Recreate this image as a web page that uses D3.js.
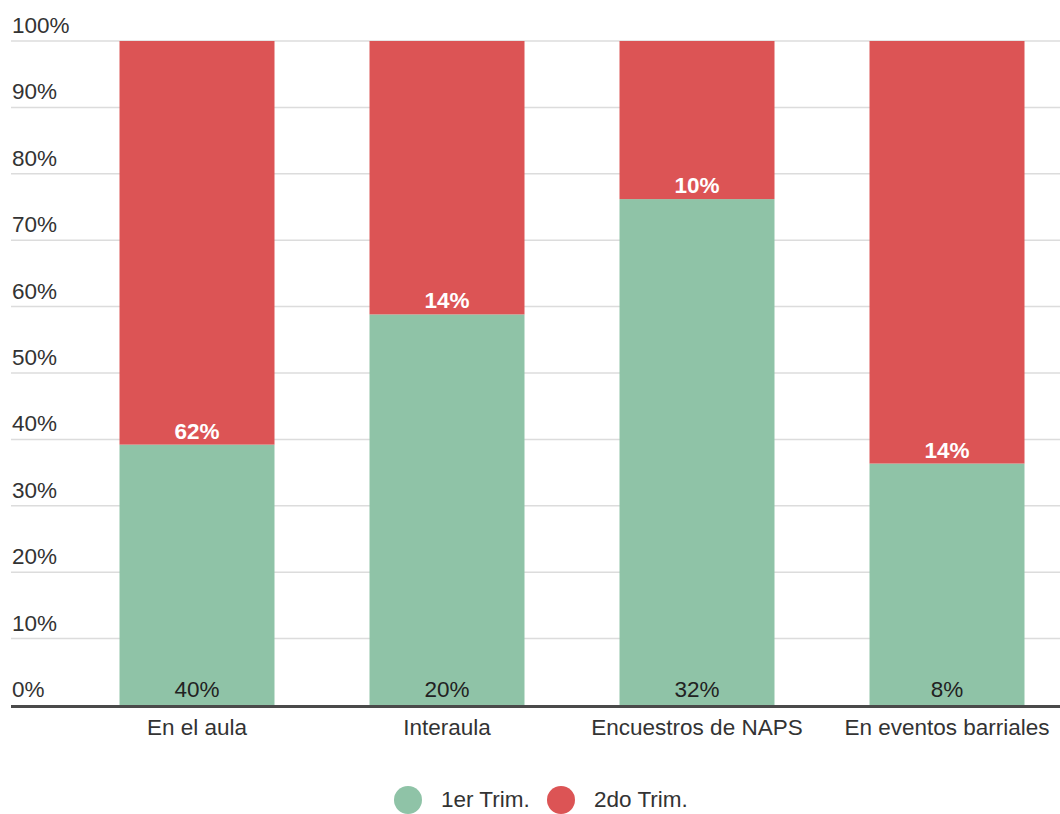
<!DOCTYPE html>
<html>
<head>
<meta charset="utf-8">
<script src="https://cdn.jsdelivr.net/npm/d3@7"></script>
<style>
  body { margin: 0; background: #fff; }
  svg { display: block; font-family: "Liberation Sans", Arial, sans-serif; }
</style>
</head>
<body>
<div id="chart"></div>
<script>
// data
const categories = ["En el aula", "Interaula", "Encuestros de NAPS", "En eventos barriales"];
const trim1 = [40, 20, 32, 8];
const trim2 = [62, 14, 10, 14];
const seriesNames = ["1er Trim.", "2do Trim."];
const yTicks = [0, 10, 20, 30, 40, 50, 60, 70, 80, 90, 100];
const colors = ["#8fc3a7", "#dc5455"];

const width = 1060, height = 814;
const fs = 22.5;

const svg = d3.select("#chart")
  .append("svg")
  .attr("width", width)
  .attr("height", height);

const x = d3.scaleBand()
  .domain(categories)
  .range([72, 1072])
  .paddingInner(0.38)
  .paddingOuter(0.19);

const y = d3.scaleLinear()
  .domain([0, 100])
  .range([705, 41]);

// gridlines + tick labels
const grid = svg.append("g");
grid.selectAll("line")
  .data(yTicks.filter(d => d > 0))
  .join("line")
  .attr("x1", 11).attr("x2", width)
  .attr("y1", d => y(d)).attr("y2", d => y(d))
  .attr("stroke", "#dcdcdc")
  .attr("stroke-width", 1.5);

grid.selectAll("text")
  .data(yTicks)
  .join("text")
  .attr("x", 12)
  .attr("y", d => y(d) - 8)
  .attr("fill", "#333")
  .attr("font-size", fs)
  .text(d => d + "%");

// stacked to 100%
const rows = categories.map((c, i) => {
  const tot = trim1[i] + trim2[i];
  return { cat: c, a: trim1[i], b: trim2[i], pa: trim1[i] / tot * 100 };
});

const bars = svg.append("g");
bars.selectAll("rect.t1")
  .data(rows)
  .join("rect")
  .attr("class", "t1")
  .attr("x", d => x(d.cat))
  .attr("width", x.bandwidth())
  .attr("y", d => y(d.pa))
  .attr("height", d => y(0) - y(d.pa))
  .attr("fill", colors[0]);

bars.selectAll("rect.t2")
  .data(rows)
  .join("rect")
  .attr("class", "t2")
  .attr("x", d => x(d.cat))
  .attr("width", x.bandwidth())
  .attr("y", y(100))
  .attr("height", d => y(d.pa) - y(100))
  .attr("fill", colors[1]);

// value labels
bars.selectAll("text.l1")
  .data(rows)
  .join("text")
  .attr("class", "l1")
  .attr("x", d => x(d.cat) + x.bandwidth() / 2)
  .attr("y", y(0) - 8)
  .attr("text-anchor", "middle")
  .attr("fill", "#222")
  .attr("font-size", fs)
  .text(d => d.a + "%");

bars.selectAll("text.l2")
  .data(rows)
  .join("text")
  .attr("class", "l2")
  .attr("x", d => x(d.cat) + x.bandwidth() / 2)
  .attr("y", d => y(d.pa) - 6)
  .attr("text-anchor", "middle")
  .attr("fill", "#fff")
  .attr("font-weight", "bold")
  .attr("font-size", fs)
  .text(d => d.b + "%");

// baseline
svg.append("line")
  .attr("x1", 11).attr("x2", width)
  .attr("y1", y(0) + 1.5).attr("y2", y(0) + 1.5)
  .attr("stroke", "#4a4a4a")
  .attr("stroke-width", 3);

// category labels
svg.append("g").selectAll("text")
  .data(categories)
  .join("text")
  .attr("x", d => x(d) + x.bandwidth() / 2)
  .attr("y", 735)
  .attr("text-anchor", "middle")
  .attr("fill", "#333")
  .attr("font-size", fs)
  .text(d => d);

// legend
const legendX = [408, 561];
const legend = svg.append("g");
legend.selectAll("circle")
  .data(seriesNames)
  .join("circle")
  .attr("cx", (d, i) => legendX[i])
  .attr("cy", 800)
  .attr("r", 14)
  .attr("fill", (d, i) => colors[i]);
legend.selectAll("text")
  .data(seriesNames)
  .join("text")
  .attr("x", (d, i) => legendX[i] + 33)
  .attr("y", 807)
  .attr("fill", "#333")
  .attr("font-size", fs)
  .text(d => d);
</script>
</body>
</html>
